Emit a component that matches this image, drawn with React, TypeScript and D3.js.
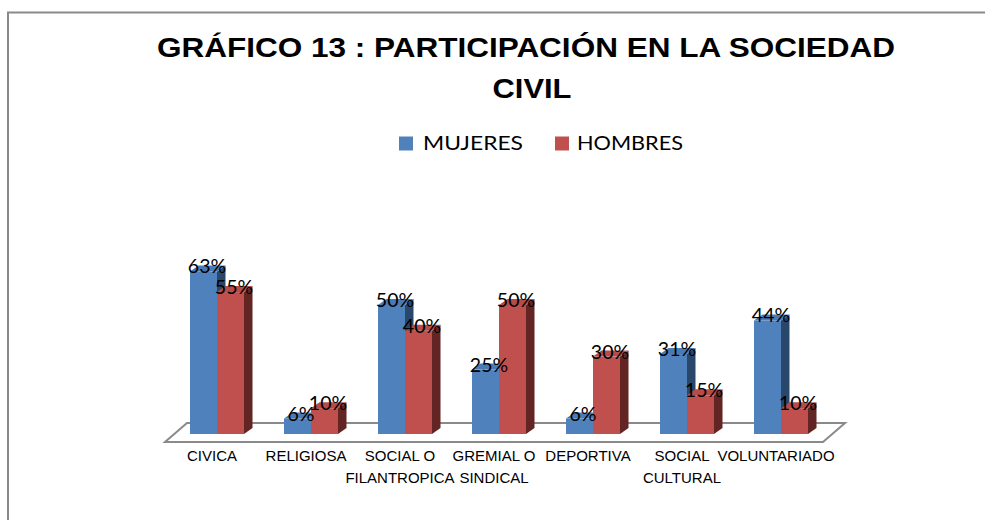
import React from "react";
import * as d3 from "d3";

const categories = [
  "CIVICA",
  "RELIGIOSA",
  "SOCIAL O FILANTROPICA",
  "GREMIAL O SINDICAL",
  "DEPORTIVA",
  "SOCIAL CULTURAL",
  "VOLUNTARIADO",
];
const categoryLines = [
  ["CIVICA"],
  ["RELIGIOSA"],
  ["SOCIAL O", "FILANTROPICA"],
  ["GREMIAL O", "SINDICAL"],
  ["DEPORTIVA"],
  ["SOCIAL", "CULTURAL"],
  ["VOLUNTARIADO"],
];
const seriesNames = ["MUJERES", "HOMBRES"];
const mujeres = [63, 6, 50, 25, 6, 31, 44];
const hombres = [55, 10, 40, 50, 30, 15, 10];
const titleLines = ["GRÁFICO 13 : PARTICIPACIÓN EN LA SOCIEDAD", "CIVIL"];

const COLORS = [
  { front: "#4F81BD", top: "#4A7AB5", side: "#29466B" },
  { front: "#C0504D", top: "#B64B48", side: "#632523" },
];

export default function App() {
  const W = 985;
  const H = 520;
  const x0 = d3
    .scaleBand<string>()
    .domain(categories)
    .range([170, 828])
    .paddingInner(40 / 94)
    .paddingOuter(20 / 94);
  const x1 = d3
    .scaleBand<string>()
    .domain(seriesNames)
    .range([0, x0.bandwidth()]);
  const y = d3.scaleLinear().domain([0, 100]).range([434, 176]);
  const dx = 8.5;
  const dy = 6;
  const series = [mujeres, hombres];

  const floorFront = 442;
  const floorBack = 423;
  const floorPts = [
    [165, floorFront],
    [823, floorFront],
    [845, floorBack],
    [187, floorBack],
  ];

  const bars: React.ReactNode[] = [];
  const labels: React.ReactNode[] = [];
  series.forEach((vals, si) => {
    vals.forEach((v, ci) => {
      const c = categories[ci];
      const bx = (x0(c) ?? 0) + (x1(seriesNames[si]) ?? 0);
      const bw = x1.bandwidth();
      const yt = y(v);
      const yb = y(0);
      const col = COLORS[si];
      bars.push(
        <g key={`b${si}-${ci}`}>
          <polygon
            points={`${bx + bw},${yt} ${bx + bw + dx},${yt - dy} ${bx + bw + dx},${yb - dy} ${bx + bw},${yb}`}
            fill={col.side}
          />
          <polygon
            points={`${bx},${yt} ${bx + bw},${yt} ${bx + bw + dx},${yt - dy} ${bx + dx},${yt - dy}`}
            fill={col.top}
          />
          <rect x={bx} y={yt} width={bw} height={yb - yt} fill={col.front} />
        </g>
      );
      labels.push(
        <text
          key={`l${si}-${ci}`}
          x={bx + bw / 2 + 3.5}
          y={yt + 2}
          textAnchor="middle"
          fontFamily="Lato, 'Open Sans', sans-serif"
          fontSize={19.5}
          fill="#000"
        >
          {v}%
        </text>
      );
    });
  });

  return (
    <svg
      width={W}
      height={H}
      style={{ position: "absolute", left: 0, top: 0, background: "#fff" }}
    >
      <rect x={0} y={0} width={W} height={H} fill="#fff" />
      <rect
        x={8}
        y={12.5}
        width={W + 50}
        height={H + 50}
        fill="none"
        stroke="#8a8a8a"
        strokeWidth={2}
      />
      <text
        x={526}
        y={57}
        textAnchor="middle"
        fontFamily="'Liberation Sans', Arial, sans-serif"
        fontWeight="bold"
        fontSize={28}
        textLength={738}
        lengthAdjust="spacingAndGlyphs"
        fill="#000"
      >
        {titleLines[0]}
      </text>
      <text
        x={532}
        y={98}
        textAnchor="middle"
        fontFamily="'Liberation Sans', Arial, sans-serif"
        fontWeight="bold"
        fontSize={28}
        textLength={79}
        lengthAdjust="spacingAndGlyphs"
        fill="#000"
      >
        {titleLines[1]}
      </text>
      {/* legend */}
      <rect x={399} y={136.5} width={14} height={14} fill={COLORS[0].front} />
      <text
        x={423}
        y={150}
        fontFamily="Lato, 'Open Sans', sans-serif"
        fontSize={19.5}
        textLength={100}
        lengthAdjust="spacingAndGlyphs"
        fill="#000"
      >
        {seriesNames[0]}
      </text>
      <rect x={555} y={136.5} width={14} height={14} fill={COLORS[1].front} />
      <text
        x={577}
        y={150}
        fontFamily="Lato, 'Open Sans', sans-serif"
        fontSize={19.5}
        textLength={106}
        lengthAdjust="spacingAndGlyphs"
        fill="#000"
      >
        {seriesNames[1]}
      </text>
      {/* floor */}
      <polygon
        points={floorPts.map((p) => p.join(",")).join(" ")}
        fill="#fff"
        stroke="#8a8a8a"
        strokeWidth={2}
      />
      {bars}
      {labels}
      {categories.map((c, ci) => {
        const cx = (x0(c) ?? 0) + x0.bandwidth() / 2 - 5;
        return (
          <text
            key={`c${ci}`}
            textAnchor="middle"
            fontFamily="'Liberation Sans', Arial, sans-serif"
            fontSize={15}
            fill="#000"
          >
            {categoryLines[ci].map((ln, li) => (
              <tspan key={li} x={cx} y={461 + li * 22}>
                {ln}
              </tspan>
            ))}
          </text>
        );
      })}
    </svg>
  );
}
